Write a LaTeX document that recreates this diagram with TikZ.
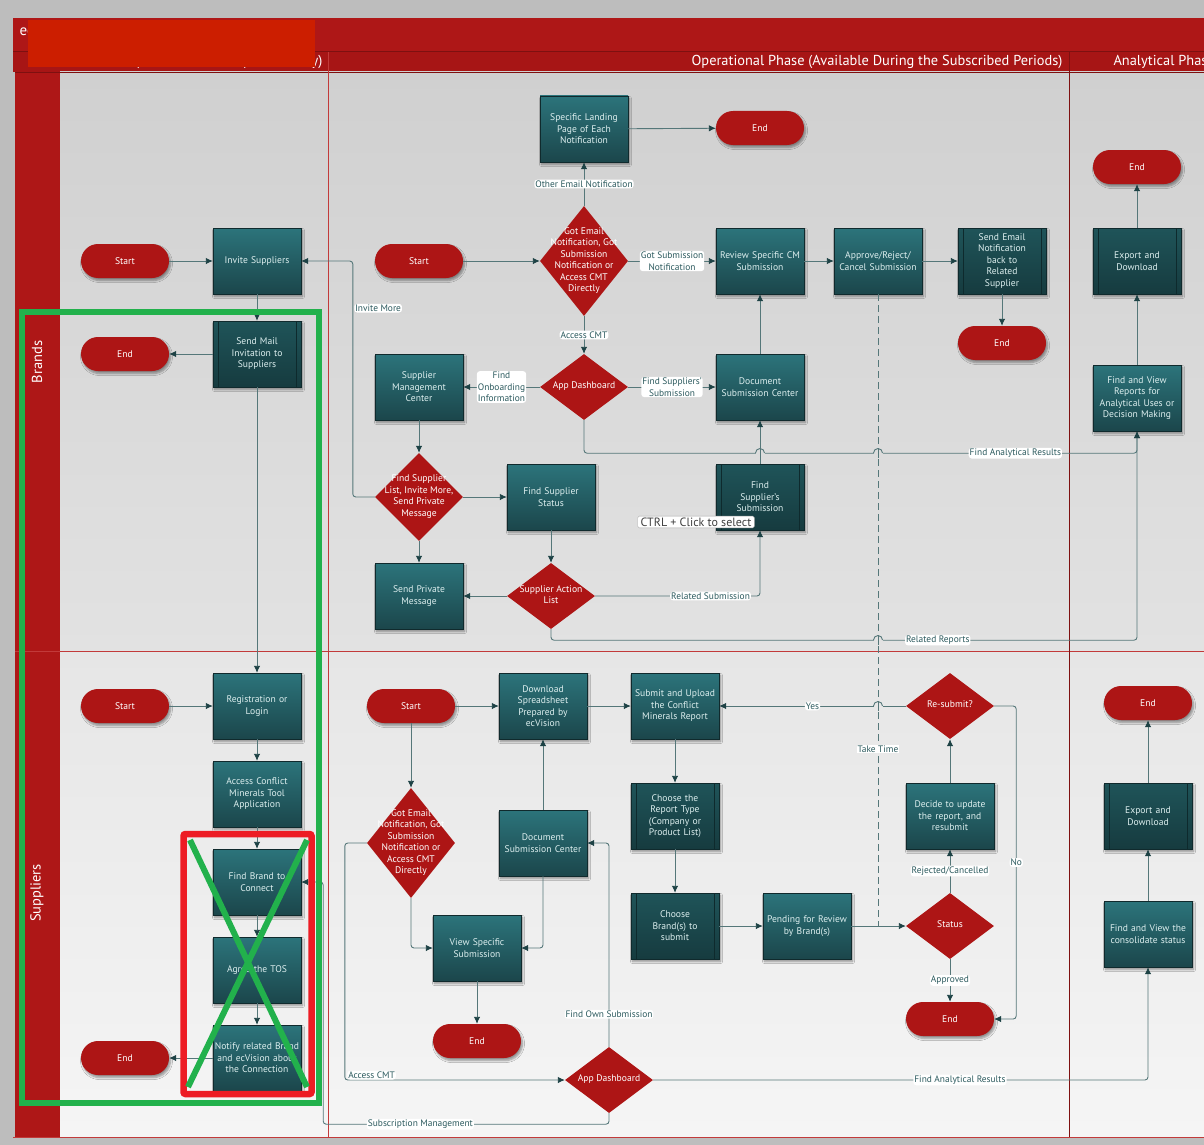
\documentclass[tikz,border=0pt]{standalone}
\usepackage{fontspec}
\setmainfont{PT Sans}
\usetikzlibrary{arrows.meta,calc,shadows.blur,shapes.geometric}

\definecolor{pagegray}{HTML}{BDBDBD}
\definecolor{bandred}{HTML}{AE1717}
\definecolor{headred}{HTML}{A71515}
\definecolor{darkred}{HTML}{7E1010}
\definecolor{lanered}{HTML}{C23A3A}
\definecolor{termred}{HTML}{AD1515}
\definecolor{boxtop}{HTML}{2C747B}
\definecolor{boxbot}{HTML}{1B464B}
\definecolor{predtop}{HTML}{1F5459}
\definecolor{predbot}{HTML}{163B3F}
\definecolor{predline}{HTML}{0E2A2D}
\definecolor{boxtext}{HTML}{DDEFEF}
\definecolor{wire}{HTML}{557779}
\definecolor{tipcol}{HTML}{1D4245}
\definecolor{lbltext}{HTML}{2C5A5E}
\definecolor{laneA}{HTML}{D0D0D0}
\definecolor{laneB}{HTML}{E2E2E2}
\definecolor{laneC}{HTML}{E6E6E6}
\definecolor{laneD}{HTML}{F5F5F5}
\definecolor{marker}{HTML}{22B14C}
\definecolor{markred}{HTML}{ED1C24}
\definecolor{redact}{HTML}{CC1E00}

\newcommand{\flowfont}{\fontsize{9.6}{11.5}\selectfont}
\newcommand{\wirefont}{\fontsize{9.4}{11.5}\selectfont}
% text of a diamond, kept out of the shape size
\newcommand{\dtxt}[1]{\smash{\raisebox{-0.22em}{\makebox[0pt]{\begin{tabular}{@{}c@{}}#1\end{tabular}}}}}
% small jump of a horizontal wire over a vertical one
\newcommand{\hop}[3]{%
	\fill[#3] ($(#1,#2)+(-4.5,-1.3)$) rectangle ($(#1,#2)+(4.5,1.3)$);
	\draw[wire, line width=0.9pt] ($(#1,#2)+(0,-5)$) -- ($(#1,#2)+(0,5)$);
	\draw[wire, line width=0.9pt] ($(#1,#2)+(-4.5,0)$) arc[start angle=180, end angle=0, radius=4.5pt];
}

\tikzset{
	proc/.style={
			draw=boxbot!60!black, line width=0.4pt,
			top color=boxtop, bottom color=boxbot,
			minimum width=88pt, minimum height=66pt, text width=86pt,
			align=center, inner sep=0pt, text=boxtext, font=\flowfont,
			blur shadow={shadow xshift=1.5pt, shadow yshift=-2.5pt, shadow blur steps=6}
		},
	predef/.style={
			proc, top color=predtop, bottom color=predbot,
			path picture={
					\draw[predline, line width=0.8pt]
					([xshift=5pt]path picture bounding box.north west) -- ([xshift=5pt]path picture bounding box.south west)
					([xshift=-5pt]path picture bounding box.north east) -- ([xshift=-5pt]path picture bounding box.south east);
				}
		},
	term/.style={
			rectangle, rounded corners=17pt, fill=termred,
			minimum width=88pt, minimum height=34pt,
			text=white, font=\flowfont,
			blur shadow={shadow xshift=1.5pt, shadow yshift=-2.5pt, shadow blur steps=6}
		},
	decision/.style={
			diamond, fill=termred, minimum width=88pt, minimum height=66pt,
			inner sep=0pt, text=white, font=\flowfont
		},
	flow/.style={
			draw=wire, line width=0.9pt, rounded corners=3pt,
			-{Latex[length=7pt, width=6.5pt, color=tipcol]}
		},
	lbl/.style={fill=white, text=lbltext, font=\wirefont, inner sep=1pt, align=center},
	lanetext/.style={text=white, font=\fontsize{14.5}{14.5}\selectfont, rotate=90},
	phasetext/.style={text=white, font=\fontsize{14.4}{14.4}\selectfont},
	tipbox/.style={
			draw=gray!70, fill=white, rounded corners=1.5pt, text=black!75,
			font=\fontsize{12}{13}\selectfont, inner xsep=3pt, inner ysep=1.5pt
		}
}

\begin{document}
\begin{tikzpicture}[x=1pt, y=-1pt]

	% Page and frame
	\fill[pagegray] (0,0) rectangle (1204,1145);
	\useasboundingbox (0,0) rectangle (1204,1145);
	\fill[bandred] (13,18) rectangle (1204,52);
	\fill[headred] (13,52) rectangle (1204,72);
	\draw[darkred, line width=1pt] (13,52) -- (1204,52);

	% Lanes
	\shade[top color=laneA, bottom color=laneB] (60,72) rectangle (1204,651);
	\shade[top color=laneC, bottom color=laneD] (60,651) rectangle (1204,1137);
	\fill[bandred] (15,72) rectangle (60,1138);
	\draw[darkred, line width=0.8pt] (15,72) -- (1204,72);
	\draw[lanered, line width=0.8pt] (15,651) -- (1204,651);
	\draw[lanered, line width=0.8pt] (328,52) -- (328,1138);
	\draw[darkred, line width=0.8pt] (1069,52) -- (1069,1138);
	\draw[lanered, line width=1pt] (13,1137) -- (1204,1137);
	\node[lanetext] (brandsLane) at (37,362) {Brands};
	\node[lanetext] (suppliersLane) at (37,893) {Suppliers};

	% Titles
	\node[anchor=west, text=white, font=\fontsize{15}{15}\selectfont] (title) at (16,30) {ecVision Conflict Minerals Tool};
	\node[phasetext, anchor=east] (initPhase) at (326,62) {Initial Phase (Need to be Set Up Once Only)};
	\node[phasetext, anchor=east] (opPhase) at (1066,62) {Operational Phase (Available During the Subscribed Periods)};
	\node[phasetext, anchor=west] (anPhase) at (1110,62) {Analytical Phase};
	\fill[redact] (28,20) rectangle (315,67);

	% Brands, initial phase
	\node[term] (brStart) at (125,261) {Start};
	\node[proc] (brInvite) at (257,261) {Invite Suppliers};
	\node[predef] (brMail) at (257,354) {Send Mail\\Invitation to\\Suppliers};
	\node[term] (brEnd) at (125,354) {End};

	% Brands, operational phase
	\node[term] (opStart) at (419,261) {Start};
	\node[decision, minimum height=110pt] (gotMail) at (584,261) {\dtxt{Got Email\\Notification, Got\\Submission\\Notification or\\Access CMT\\Directly}};
	\node[proc] (landing) at (584,129) {Specific Landing\\Page of Each\\Notification};
	\node[term] (landEnd) at (760,128) {End};
	\node[proc] (review) at (760,261) {Review Specific CM\\Submission};
	\node[proc] (approve) at (878,261) {Approve/Reject/\\Cancel Submission};
	\node[predef] (sendBack) at (1002,261) {Send Email\\Notification\\back to\\Related\\Supplier};
	\node[term] (backEnd) at (1002,343) {End};
	\node[decision] (dash) at (584,387) {\dtxt{App Dashboard}};
	\node[proc] (suppMgmt) at (419,387) {Supplier\\Management\\Center};
	\node[proc] (docCenter) at (760,387) {Document\\Submission Center};
	\node[decision, minimum height=88pt] (findList) at (419,497) {\dtxt{Find Supplier\\List, Invite More,\\Send Private\\Message}};
	\node[proc] (findStatus) at (551,497) {Find Supplier\\Status};
	\node[predef] (findSub) at (760,497) {Find\\Supplier's\\Submission};
	\node[proc] (sendPriv) at (419,596) {Send Private\\Message};
	\node[decision] (actionList) at (551,596) {\dtxt{Supplier Action\\List}};

	% Brands, analytical phase
	\node[term] (anEnd) at (1137,167) {End};
	\node[predef] (anExport) at (1137,261) {Export and\\Download};
	\node[proc] (anFind) at (1137,398) {Find and View\\Reports for\\Analytical Uses or\\Decision Making};

	% Suppliers, initial phase
	\node[term] (suStart) at (125,706) {Start};
	\node[proc] (register) at (257,706) {Registration or\\Login};
	\node[proc] (accessCM) at (257,794) {Access Conflict\\Minerals Tool\\Application};
	\node[proc] (findBrand) at (257,882) {Find Brand to\\Connect};
	\node[proc] (agreeTos) at (257,970) {Agree the TOS};
	\node[proc] (notify) at (257,1058) {Notify related Brand\\and ecVision about\\the Connection};
	\node[term] (suEnd) at (125,1058) {End};

	% Suppliers, operational phase
	\node[term] (opsStart) at (411,706) {Start};
	\node[proc] (download) at (543,706) {Download\\Spreadsheet\\Prepared by\\ecVision};
	\node[proc] (upload) at (675,706) {Submit and Upload\\the Conflict\\Minerals Report};
	\node[predef] (chooseType) at (675,816) {Choose the\\Report Type\\(Company or\\Product List)};
	\node[predef] (chooseBrand) at (675,926) {Choose\\Brand(s) to\\submit};
	\node[proc] (pending) at (807,926) {Pending for Review\\by Brand(s)};
	\node[decision] (status) at (950,926) {\dtxt{Status}};
	\node[proc] (decide) at (950,816) {Decide to update\\the report, and\\resubmit};
	\node[decision] (resubmit) at (950,706) {\dtxt{Re-submit?}};
	\node[term] (statusEnd) at (950,1019) {End};
	\node[decision, minimum height=110pt] (gotMail2) at (411,843) {\dtxt{Got Email\\Notification, Got\\Submission\\Notification or\\Access CMT\\Directly}};
	\node[proc] (docCenter2) at (543,843) {Document\\Submission Center};
	\node[proc] (viewSpec) at (477,948) {View Specific\\Submission};
	\node[term] (viewEnd) at (477,1041) {End};
	\node[decision] (dash2) at (609,1080) {\dtxt{App Dashboard}};

	% Suppliers, analytical phase
	\node[term] (anEnd2) at (1148,703) {End};
	\node[predef] (anExport2) at (1148,816) {Export and\\Download};
	\node[proc] (anFind2) at (1148,934) {Find and View the\\consolidate status};

	% Brands connectors
	\draw[flow] (brStart) -- (brInvite);
	\draw[flow] (brInvite) -- (brMail);
	\draw[flow] (brMail) -- (brEnd);
	\draw[flow] (brMail) -- (register);
	\draw[flow] (opStart) -- (gotMail);
	\draw[flow] (gotMail) -- node[lbl]{Other Email Notification} (landing);
	\draw[flow] (landing) -- (landEnd);
	\draw[flow] (gotMail) -- node[lbl]{Got Submission\\Notification} (review);
	\draw[flow] (gotMail) -- node[lbl]{Access CMT} (dash);
	\draw[flow] (review) -- (approve);
	\draw[flow] (approve) -- (sendBack);
	\draw[flow] (sendBack) -- (backEnd);
	\draw[flow] (dash) -- node[lbl]{Find\\Onboarding\\Information} (suppMgmt);
	\draw[flow] (dash) -- node[lbl]{Find Suppliers'\\Submission} (docCenter);
	\draw[flow] (docCenter) -- (review);
	\draw[flow] (suppMgmt) -- (findList);
	\draw[flow] (findList) -- (findStatus);
	\draw[flow] (findList) -- (sendPriv);
	\draw[flow] (findList.west) -- ++(-22,0) |- node[lbl, pos=0.4, anchor=west, xshift=1pt]{Invite More} (brInvite.east);
	\draw[flow] (findStatus) -- (actionList);
	\draw[flow] (actionList) -- (sendPriv);
	\draw[flow] (actionList.east) -| node[lbl, pos=0.35]{Related Submission} (findSub.south);
	\draw[flow] (findSub) -- (docCenter);
	\draw[flow] (dash.south) -- ++(0,33) -| node[lbl, pos=0.39]{Find Analytical Results} (anFind.south);
	\draw[flow] (actionList.south) -- ++(0,11) -| node[lbl, pos=0.33]{Related Reports} (anFind.south);
	\draw[flow] (anFind) -- (anExport);
	\draw[flow] (anExport) -- (anEnd);

	% Waiting for the brand
	\draw[wire, line width=0.9pt, dash pattern=on 7pt off 4pt] (approve.south) -- node[lbl, pos=0.72]{Take Time} (approve.south |- pending.east);

	% Suppliers connectors
	\draw[flow] (suStart) -- (register);
	\draw[flow] (register) -- (accessCM);
	\draw[flow] (accessCM) -- (findBrand);
	\draw[flow] (findBrand) -- (agreeTos);
	\draw[flow] (agreeTos) -- (notify);
	\draw[flow] (notify) -- (suEnd);
	\draw[flow] (opsStart) -- (download);
	\draw[flow] (download) -- (upload);
	\draw[flow] (opsStart) -- (gotMail2);
	\draw[flow] (gotMail2.south) |- (viewSpec.west);
	\draw[flow] (gotMail2.west) -- ++(-22,0) |- node[lbl, pos=0.5, anchor=south west, xshift=2pt]{Access CMT} (dash2.west);
	\draw[flow] (docCenter2) -- (download);
	\draw[flow] (docCenter2.south) |- (viewSpec.east);
	\draw[flow] (viewSpec) -- (viewEnd);
	\draw[flow] (dash2.north) |- node[lbl, pos=0.08]{Find Own Submission} (docCenter2.east);
	\draw[flow] (dash2.east) -| node[lbl, pos=0.31]{Find Analytical Results} (anFind2.south);
	\draw[flow] (dash2.south) -- ++(0,11) -| node[lbl, pos=0.33]{Subscription Management} ([xshift=22pt]findBrand.east) -- (findBrand.east);
	\draw[flow] (upload) -- (chooseType);
	\draw[flow] (chooseType) -- (chooseBrand);
	\draw[flow] (chooseBrand) -- (pending);
	\draw[flow] (pending) -- (status);
	\draw[flow] (status) -- node[lbl]{Rejected/Cancelled} (decide);
	\draw[flow] (decide) -- (resubmit);
	\draw[flow] (resubmit) -- node[lbl]{Yes} (upload);
	\draw[flow] (resubmit.east) -- ++(22,0) |- node[lbl, pos=0.25]{No} (statusEnd.east);
	\draw[flow] (status) -- node[lbl]{Approved} (statusEnd);
	\draw[flow] (anFind2) -- (anExport2);
	\draw[flow] (anExport2) -- (anEnd2);

	% Line jumps
	\hop{760}{453}{laneB!66!laneA}
	\hop{878}{453}{laneB!66!laneA}
	\hop{878}{640}{laneB}
	\hop{878}{706}{laneD!11!laneC}

	% Tooltip
	\node[tipbox] (tooltip) at (696,522) {CTRL + Click to select};

	% Review marks
	\draw[marker, line width=6pt] (21.5,312) rectangle (319,1103);
	\draw[markred, line width=6.5pt, rounded corners=2pt] (183.5,834) rectangle (311.5,1094);
	\draw[marker, line width=6pt] (190,840) -- (307,1087);
	\draw[marker, line width=6pt] (307,840) -- (188,1087);
\end{tikzpicture}
\end{document}
